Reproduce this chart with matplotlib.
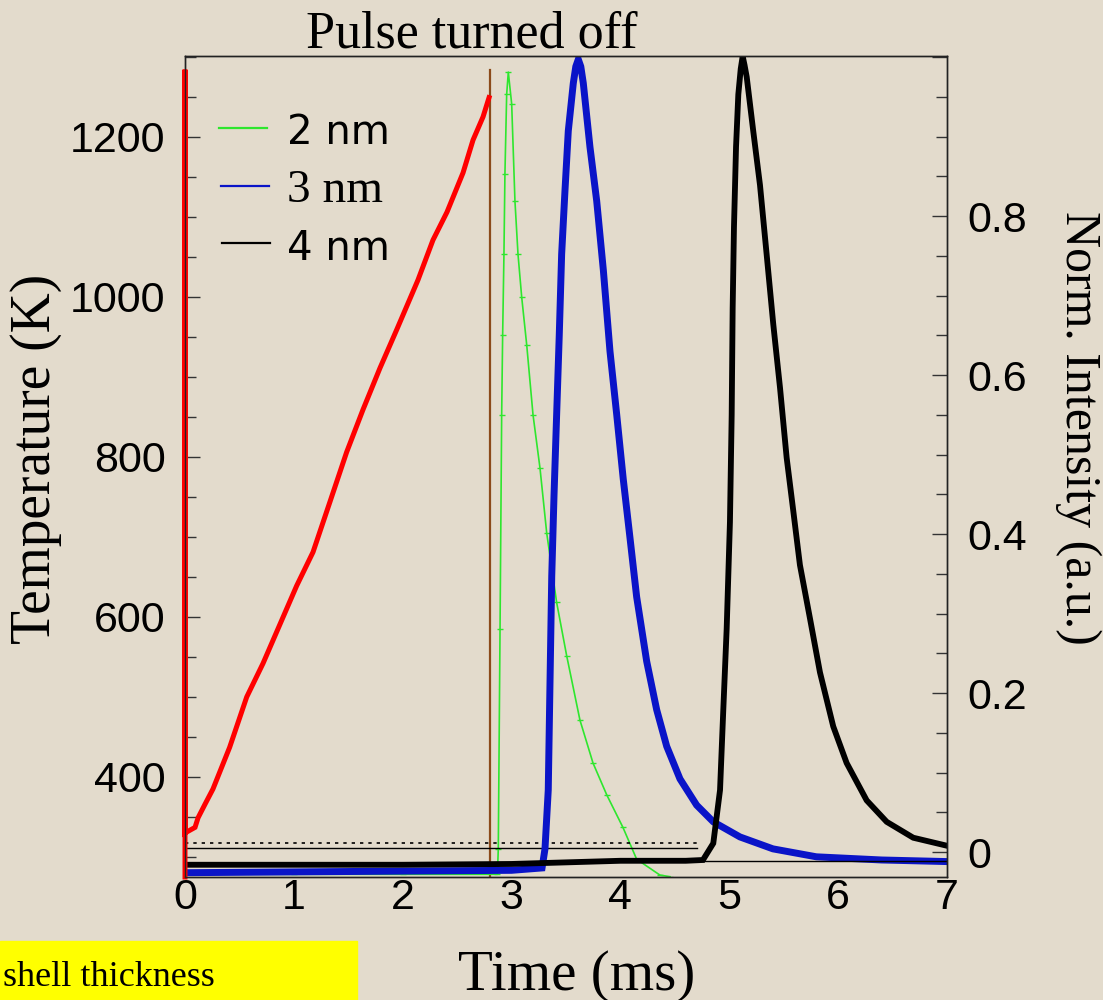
import matplotlib
matplotlib.use("Agg")
import matplotlib.pyplot as plt
from matplotlib.lines import Line2D
from matplotlib.patches import Rectangle
from matplotlib.ticker import MultipleLocator

# particle temperature (left axis)
temp_time = [0.0, 0.0, 0.0, 0.092, 0.12, 0.184, 0.257, 0.41, 0.567, 0.717, 0.873, 1.026,
             1.176, 1.332, 1.485, 1.635, 1.791, 1.945, 2.14, 2.278, 2.407, 2.554, 2.646,
             2.738, 2.793]
temp_k = [275, 1284, 330, 337, 349, 366, 385, 437, 500, 542, 591, 639, 681, 744, 806, 859,
          911, 959, 1021, 1071, 1106, 1155, 1196, 1225, 1249]

pulse_off_time = 2.8
pulse_off_top = 1284

# normalised emission intensity (right axis) for each shell thickness
green_time = [0.0, 1.0, 2.0, 2.87, 2.878, 2.894, 2.909, 2.918, 2.930, 2.939, 2.955, 2.970,
              3.001, 3.031, 3.059, 3.093, 3.139, 3.197, 3.261, 3.323, 3.414, 3.506, 3.628,
              3.748, 3.874, 4.023, 4.149, 4.363, 4.455]
green_int = [-0.028, -0.028, -0.028, -0.028, 0.004, 0.280, 0.550, 0.650, 0.752, 0.853, 0.953,
             0.981, 0.941, 0.819, 0.752, 0.698, 0.638, 0.550, 0.483, 0.401, 0.314, 0.247,
             0.166, 0.112, 0.072, 0.031, -0.009, -0.029, -0.031]

blue_time = [0.0, 1.0, 2.0, 3.0, 3.28, 3.307, 3.337, 3.353, 3.369, 3.390, 3.414, 3.438, 3.460,
             3.491, 3.521, 3.567, 3.59, 3.613, 3.636, 3.659, 3.720, 3.782, 3.843, 3.904, 3.966,
             4.026, 4.088, 4.149, 4.241, 4.333, 4.425, 4.547, 4.700, 4.853, 5.098, 5.401, 5.8,
             6.4, 7.0]
blue_int = [-0.026, -0.025, -0.024, -0.023, -0.02, 0.004, 0.078, 0.213, 0.347, 0.449, 0.550,
            0.650, 0.752, 0.833, 0.907, 0.967, 0.988, 0.997, 0.988, 0.967, 0.887, 0.819,
            0.732, 0.630, 0.550, 0.469, 0.395, 0.321, 0.240, 0.179, 0.133, 0.092, 0.059,
            0.038, 0.019, 0.004, -0.006, -0.01, -0.012]

black_time = [0.0, 1.0, 2.0, 3.0, 3.5, 4.0, 4.6, 4.758, 4.853, 4.915, 4.945, 4.976, 5.006,
              5.022, 5.031, 5.043, 5.062, 5.083, 5.105, 5.123, 5.140, 5.160, 5.220, 5.282,
              5.343, 5.404, 5.466, 5.527, 5.588, 5.649, 5.741, 5.833, 5.955, 6.078, 6.262,
              6.446, 6.690, 6.997]
black_int = [-0.016, -0.016, -0.016, -0.015, -0.013, -0.011, -0.011, -0.01, 0.011, 0.078,
             0.179, 0.281, 0.415, 0.550, 0.684, 0.786, 0.887, 0.953, 0.985, 1.001, 0.99,
             0.975, 0.907, 0.839, 0.752, 0.664, 0.584, 0.496, 0.429, 0.361, 0.294, 0.226,
             0.158, 0.112, 0.065, 0.038, 0.018, 0.008]

# scattered points just above the baselines
scatter_hi_level = 0.011
scatter_mid_level = 0.005
scatter_end = 4.7
black_ref_level = -0.011

series_labels = ["2 nm", "3 nm", "4 nm"]
x_ticks = [0, 1, 2, 3, 4, 5, 6, 7]
right_ticks = [0, 0.2, 0.4, 0.6, 0.8, 1.0]
right_tick_labels = ["0", "0.2", "0.4", "0.6", "0.8", ""]

bg = "#e3dbcc"
green = "#2ee62e"
blue = "#0a14c8"
serif = "Liberation Serif"
plt.rcParams["font.family"] = "Liberation Sans"

W, H = 1103, 1000
fig = plt.figure(figsize=(W / 100, H / 100), dpi=100, facecolor=bg)
ax = fig.add_axes([185 / W, 1 - 877 / H, 762 / W, 821 / H])
ax2 = ax.twinx()
ax.set_zorder(ax2.get_zorder() + 1)
ax.patch.set_visible(False)
ax2.patch.set_facecolor(bg)

ax.set_xlim(0, 7)
ax.set_ylim(275, 1301)
ax2.set_ylim(-0.0314, 1.0013)

# curves
ax2.axvline(pulse_off_time, ymax=(pulse_off_top - 275) / (1301 - 275), color="#8b4a1a", lw=1.6)
ax2.plot(green_time, green_int, color=green, lw=1.2, marker="_", ms=5, mew=1)
ax2.plot([0, scatter_end], [scatter_hi_level] * 2, color="black", lw=1.2, ls=(0, (2, 3)))
ax2.plot([0, scatter_end], [scatter_mid_level] * 2, color="black", lw=1.0)
ax2.plot(blue_time, blue_int, color=blue, lw=5, solid_joinstyle="miter")
ax2.plot([scatter_end, 7], [black_ref_level] * 2, color="black", lw=1.0)
ax2.plot(black_time, black_int, color="black", lw=4.2, solid_joinstyle="miter")
ax.plot(temp_time, temp_k, color="#ff0000", lw=3.6, clip_on=False, solid_joinstyle="miter")

# axes styling
for a in (ax, ax2):
    for s in a.spines.values():
        s.set_linewidth(1.0)
        s.set_color("#222222")

ax.set_xticks(x_ticks)
ax.tick_params(axis="x", length=0, pad=1, labelsize=31)
ax.yaxis.set_major_locator(MultipleLocator(200))
ax.yaxis.set_minor_locator(MultipleLocator(50))
ax.tick_params(axis="y", which="major", direction="in", length=11, width=1, pad=14, labelsize=31,
               color="#333333")
ax.tick_params(axis="y", which="minor", direction="in", length=8, width=1, color="#333333")

ax2.set_yticks(right_ticks)
ax2.set_yticklabels(right_tick_labels)
ax2.yaxis.set_minor_locator(MultipleLocator(0.05))
ax2.tick_params(axis="y", which="major", direction="in", length=11, width=1, pad=15, labelsize=31,
                color="#333333")
ax2.tick_params(axis="y", which="minor", direction="in", length=8, width=1, color="#333333")

# legend drawn by hand
legend_rows = [(series_labels[0], green, "DejaVu Sans", 29, 128, 144, 219),
               (series_labels[1], blue, serif, 34, 186, 202, 221),
               (series_labels[2], "black", "DejaVu Sans", 29, 243, 260, 222)]
for label, col, fam, size, line_y, base_y, x0 in legend_rows:
    fig.add_artist(Line2D([x0 / W, (x0 + 48) / W], [1 - line_y / H] * 2, color=col, lw=1.6))
    fig.text(287 / W, 1 - base_y / H, label, fontsize=size, family=fam, va="baseline")

# texts
fig.text(472 / W, 1 - 48 / H, "Pulse turned off", ha="center", va="baseline", fontsize=37.5,
         family=serif)
fig.text(577 / W, 1 - 990 / H, "Time (ms)", ha="center", va="baseline", fontsize=41, family=serif)
fig.text(36 / W, 1 - 459 / H, "Temperature (K)", rotation=90, ha="center", va="center",
         fontsize=40, family=serif)
fig.text(1078 / W, 1 - 428 / H, "Norm. Intensity (a.u.)", rotation=-90, ha="center", va="center",
         fontsize=36, family=serif)

fig.add_artist(Rectangle((0, 0), 357 / W, 59 / H, transform=fig.transFigure, color="#ffff00",
                         zorder=0))
fig.text(3 / W, 1 - 986 / H, "shell thickness", va="baseline", fontsize=26, family=serif)

fig.savefig("out.png", dpi=100, facecolor=bg)
